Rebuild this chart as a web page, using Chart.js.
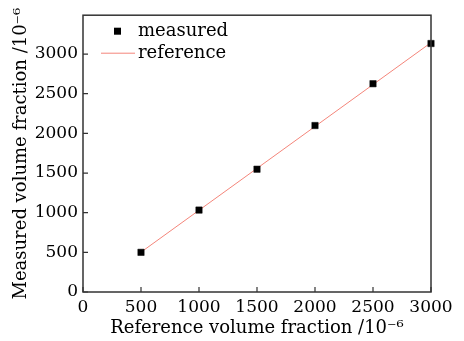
<!DOCTYPE html>
<html>
<head>
<meta charset="utf-8">
<script src="https://cdn.jsdelivr.net/npm/chart.js"></script>
<style>
  html, body { margin: 0; padding: 0; background: #fff; }
  #wrap { width: 464px; height: 341px; }
</style>
</head>
<body>
<div id="wrap"><canvas id="calChart"></canvas></div>
<script>
// values
const refFraction = [500, 1000, 1500, 2000, 2500, 3000];
const measuredFraction = [500, 1033, 1548, 2099, 2626, 3133];
// fitted reference line, end points
const lineX = [500, 3000];
const lineY = [502, 3144];
const xTicks = [0, 500, 1000, 1500, 2000, 2500, 3000];
const yTicks = [0, 500, 1000, 1500, 2000, 2500, 3000];

const serif = '"DejaVu Serif", "Liberation Serif", serif';
const axisColor = '#333';

// frame around the plot and inward tick marks
const framePlugin = {
    id: 'frame',
    afterDatasetsDraw(chart) {
        const { ctx, chartArea: a, scales } = chart;
        ctx.save();
        ctx.strokeStyle = axisColor;
        ctx.lineWidth = 1.5;
        ctx.strokeRect(a.left, a.top, a.right - a.left, a.bottom - a.top);
        ctx.lineWidth = 1.2;
        ctx.beginPath();
        xTicks.forEach(v => {
            const px = scales.x.getPixelForValue(v);
            ctx.moveTo(px, a.bottom);
            ctx.lineTo(px, a.bottom - 5);
        });
        yTicks.forEach(v => {
            const py = scales.y.getPixelForValue(v);
            ctx.moveTo(a.left, py);
            ctx.lineTo(a.left + 5, py);
        });
        ctx.stroke();
        ctx.restore();
    }
};

// legend drawn inside the plot, top left
const innerLegend = {
    id: 'innerLegend',
    afterDraw(chart) {
        const { ctx, chartArea: a } = chart;
        const ds = chart.data.datasets;
        ctx.save();
        ctx.font = '18px ' + serif;
        ctx.textBaseline = 'middle';
        // measured
        let y = a.top + 16;
        ctx.fillStyle = ds[0].backgroundColor;
        ctx.fillRect(a.left + 31, y - 3.5, 7, 7);
        ctx.fillStyle = '#000';
        ctx.fillText(ds[0].label, a.left + 55, y);
        // reference
        y = a.top + 38;
        ctx.strokeStyle = ds[1].borderColor;
        ctx.lineWidth = 1;
        ctx.beginPath();
        ctx.moveTo(a.left + 18, y);
        ctx.lineTo(a.left + 52, y);
        ctx.stroke();
        ctx.fillText(ds[1].label, a.left + 55, y);
        ctx.restore();
    }
};

const plainNum = v => String(v);

const ctx = document.getElementById('calChart').getContext('2d');
new Chart(ctx, {
    type: 'scatter',
    data: {
        datasets: [
            {
                label: 'measured',
                data: refFraction.map((x, i) => ({ x: x, y: measuredFraction[i] })),
                backgroundColor: '#000',
                borderColor: '#000',
                pointStyle: 'rect',
                pointRadius: 4.5,
                borderWidth: 0.5,
                clip: false,
                order: 0
            },
            {
                label: 'reference',
                type: 'line',
                data: lineX.map((x, i) => ({ x: x, y: lineY[i] })),
                borderColor: '#f4857a',
                borderWidth: 1,
                pointRadius: 0,
                fill: false,
                clip: false,
                order: 1
            }
        ]
    },
    options: {
        responsive: true,
        maintainAspectRatio: false,
        animation: false,
        layout: { padding: { top: 7, right: 33, left: 0, bottom: 0 } },
        plugins: {
            legend: { display: false },
            tooltip: { enabled: false }
        },
        scales: {
            x: {
                type: 'linear',
                min: 0,
                max: 3000,
                afterBuildTicks: s => { s.ticks = xTicks.map(v => ({ value: v })); },
                afterFit: s => { s.height = 49; },
                grid: { display: false, drawTicks: false },
                border: { display: false },
                ticks: {
                    color: '#000',
                    padding: 5,
                    callback: plainNum,
                    font: { family: serif, size: 17 }
                },
                title: {
                    display: true,
                    text: 'Reference volume fraction /10⁻⁶',
                    color: '#000',
                    font: { family: serif, size: 18 },
                    padding: { top: 0, bottom: 2 }
                }
            },
            y: {
                type: 'linear',
                min: 0,
                max: 3490,
                afterBuildTicks: s => { s.ticks = yTicks.map(v => ({ value: v })); },
                afterFit: s => { s.width = 83; },
                grid: { display: false, drawTicks: false },
                border: { display: false },
                ticks: {
                    color: '#000',
                    padding: 5,
                    callback: plainNum,
                    font: { family: serif, size: 17 }
                },
                title: {
                    display: true,
                    text: 'Measured volume fraction /10⁻⁶',
                    color: '#000',
                    font: { family: serif, size: 18 },
                    padding: { top: 11, bottom: 0 }
                }
            }
        }
    },
    plugins: [framePlugin, innerLegend]
});
</script>
</body>
</html>
